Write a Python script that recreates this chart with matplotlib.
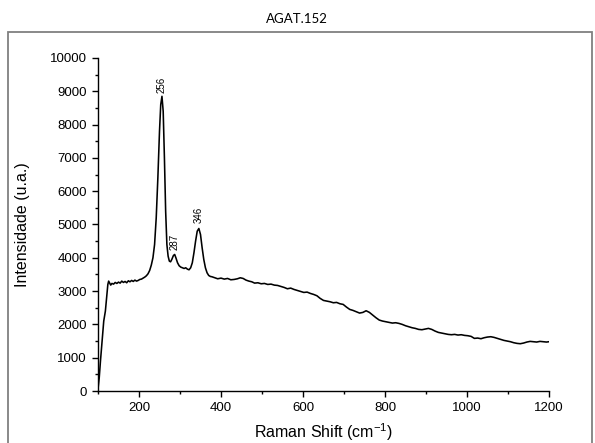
import numpy as np
import matplotlib
matplotlib.use('Agg')
import matplotlib.pyplot as plt
from matplotlib.ticker import MultipleLocator
from matplotlib.patches import Rectangle

plt.rcParams['mathtext.fontset'] = 'custom'
plt.rcParams['mathtext.rm'] = 'Liberation Sans'
plt.rcParams['mathtext.default'] = 'regular'


title = "AGAT.152"
xlabel = "Raman Shift (cm$^{-1}$)"
ylabel = "Intensidade (u.a.)"

# spectrum
shift = [100, 103, 106, 110, 114, 118, 121, 124, 126, 128, 131, 134, 138, 142, 146,
         150, 154, 158, 162, 166, 170, 174, 178, 182, 186, 190, 194, 198, 202, 206,
         210, 214, 218, 222, 226, 230, 234, 238, 242, 246, 250, 253, 256, 259, 262,
         265, 268, 271, 274, 277, 280, 284, 287, 290, 294, 298, 302, 306, 310, 314,
         318, 322, 326, 330, 334, 338, 342, 346, 350, 354, 358, 362, 366, 370, 374,
         378, 385, 392, 400, 408, 416, 424, 432, 440, 447, 454, 461, 468, 475, 482,
         490, 498, 506, 514, 522, 530, 538, 546, 554, 562, 570, 578, 586, 594, 602,
         610, 618, 626, 634, 642, 650, 658, 666, 674, 682, 690, 698, 706, 714, 722,
         730, 738, 746, 754, 762, 770, 778, 786, 794, 802, 810, 818, 826, 834, 842,
         850, 858, 866, 874, 882, 890, 898, 906, 914, 922, 930, 938, 946, 954, 962,
         970, 978, 986, 994, 1002, 1010, 1018, 1026, 1034, 1042, 1050, 1058, 1066,
         1074, 1082, 1090, 1098, 1106, 1114, 1122, 1130, 1138, 1146, 1154, 1162,
         1170, 1178, 1186, 1194, 1200]
intensity = [60, 400, 900, 1500, 2100, 2400, 2800, 3200, 3300, 3250, 3180, 3230, 3210, 3260, 3230,
             3270, 3240, 3300, 3260, 3290, 3250, 3310, 3280, 3320, 3290, 3330, 3300, 3320, 3350, 3360,
             3390, 3420, 3460, 3520, 3620, 3780, 4000, 4400, 5200, 6400, 7800, 8600, 8850, 8400, 7000,
             5400, 4400, 4050, 3900, 3880, 3950, 4070, 4100, 4000, 3850, 3760, 3720, 3700, 3680, 3700,
             3660, 3640, 3700, 3850, 4150, 4500, 4800, 4880, 4700, 4300, 3950, 3700, 3550, 3470, 3440,
             3430, 3400, 3370, 3390, 3360, 3380, 3340, 3350, 3370, 3400, 3380, 3330, 3300, 3280, 3240,
             3250, 3220, 3230, 3200, 3210, 3180, 3170, 3140, 3110, 3070, 3090, 3050, 3020, 2990, 2960,
             2970, 2930, 2900, 2860, 2780, 2720, 2700, 2680, 2650, 2660, 2620, 2600, 2520, 2450, 2420,
             2380, 2340, 2360, 2410, 2360, 2280, 2200, 2130, 2100, 2080, 2060, 2040, 2050, 2030, 2000,
             1960, 1930, 1900, 1880, 1850, 1840, 1860, 1880, 1850, 1800, 1760, 1740, 1720, 1700, 1690,
             1700, 1680, 1690, 1670, 1660, 1640, 1580, 1590, 1570, 1600, 1620, 1630, 1610,
             1580, 1550, 1520, 1500, 1480, 1450, 1430, 1420, 1440, 1470, 1490, 1480,
             1470, 1490, 1480, 1470, 1480]

peak_pos = [256, 287, 346]
peak_top = [8950, 4230, 5050]
peak_text = ["256", "287", "346"]


fig = plt.figure(figsize=(5.95, 4.43), dpi=100)
fig.patch.set_facecolor("white")

# grey frame around the graph page
fig.patches.append(Rectangle((8 / 595, -0.01), 584 / 595, 1 - 32 / 443 + 0.01,
                             transform=fig.transFigure, fill=False,
                             edgecolor="#808080", lw=1.3))
fig.text(297 / 595, 1 - 19 / 443, title, ha="center", va="center",
         fontsize=9.5, family="Lato")

ax = fig.add_axes([98 / 595, 1 - 391 / 443, 451 / 595, 333 / 443])
ax.plot(shift, intensity, c="black", lw=1.15)

for x, y, t in zip(peak_pos, peak_top, peak_text):
    ax.text(x, y, t, rotation=90, ha="center", va="bottom", fontsize=7,
            family="Liberation Sans")

ax.set_xlim(100, 1200)
ax.set_ylim(0, 10000)
ax.xaxis.set_major_locator(MultipleLocator(200))
ax.xaxis.set_minor_locator(MultipleLocator(100))
ax.yaxis.set_major_locator(MultipleLocator(1000))
ax.yaxis.set_minor_locator(MultipleLocator(500))
ax.spines["top"].set_visible(False)
ax.spines["right"].set_visible(False)
ax.spines["left"].set_linewidth(1.0)
ax.spines["bottom"].set_linewidth(1.0)
ax.tick_params(which="major", direction="out", length=4.5, width=1.0, labelsize=9.5)
ax.tick_params(which="minor", direction="out", length=2.5, width=1.0)
for lab in ax.get_xticklabels() + ax.get_yticklabels():
    lab.set_family("Liberation Sans")

ax.set_xlabel(xlabel, fontsize=11.5, family="Liberation Sans", labelpad=5)
ax.set_ylabel(ylabel, fontsize=11.5, family="Liberation Sans", labelpad=14)

plt.savefig("out.png", dpi=100)
plt.close()
